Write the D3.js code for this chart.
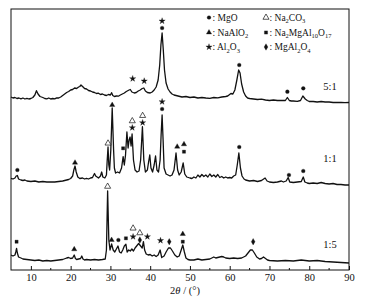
<!DOCTYPE html>
<html>
<head>
<meta charset="utf-8">
<script src="https://cdn.jsdelivr.net/npm/d3@7"></script>
<style>
  body { margin: 0; background: #fff; }
  svg text { font-family: "Liberation Serif", "Times New Roman", serif; fill: #111; }
</style>
</head>
<body>
<div id="chart"></div>
<script>
////////////////////////////////////////////////////////////
// Data (2theta in degrees, intensity in a.u. incl. offset)
////////////////////////////////////////////////////////////

const trace_5_1 = [
  [5,173],[5.5,172],[6,172.5],[6.5,171.5],[7,172],[7.5,171.2],[8,172],[8.5,171],[9,171.7],[9.5,171],
  [10,171.5],[10.5,172.5],[11,175],[11.4,179.3],[11.8,176],[12.3,173.5],[13,172.5],[13.5,171.5],[14,171.2],
  [14.5,172],[15,171],[15.5,171.5],[16,171.2],[16.5,172.2],[17,172],[17.5,173],[18,174.5],[18.5,176],
  [19,177.5],[19.5,178.5],[20,180],[20.5,180.5],[21,182],[21.5,181.5],[22,183],[22.3,183.5],[22.6,185],
  [23,183.5],[23.5,181.5],[24,181],[24.5,179.5],[25,179],[25.5,178],[26,177.5],[26.5,176.5],[27,176.8],
  [27.5,175.5],[28,176],[28.5,175],[29,174.5],[29.5,175.5],[30,175],[30.3,177.3],[30.6,174.5],[31,173.5],
  [31.5,174],[32,173.8],[32.5,175],[33,176],[33.5,177],[34,178.5],[34.7,180],[35,180.5],[35.4,178],
  [36,177],[36.5,177.5],[37,179],[37.5,180],[38,181.5],[38.4,182],[38.8,179],[39.3,177.5],[40,177],
  [40.5,178],[41,180],[41.5,183],[42,190],[42.4,205],[42.7,225],[43,237],[43.3,220],[43.6,200],[44,187],
  [44.5,181],[45,178],[45.5,176],[46,175],[47,174],[48,173],[49,173.5],[50,172.5],[51,173],[52,172],
  [53,172.5],[54,172],[55,171.7],[56,172.5],[57,172.2],[58,173],[59,173.5],[59.5,174],[60.3,176.5],
  [60.8,176],[61.3,180],[61.8,190],[62.25,200],[62.6,197],[63,186],[63.5,178],[64,174],[64.5,172],
  [65,171.5],[66,171],[67,170.5],[68,170.8],[69,170],[70,169.5],[71,170],[72,169.5],[73,169.7],[74,169.5],
  [74.5,172.5],[75,169.5],[75.5,169],[76,169],[77,168.7],[77.8,169.5],[78.4,174],[79,171],[79.5,169.5],
  [80,168.5],[81,168.5],[82,168],[83,168.5],[84,168],[85,168],[86,167.5],[87,167.7],[88,167.5],[89,167.3],[90,167.5]
]

const trace_1_1 = [
  [5,91.7],[5.5,91],[6,92],[6.3,94],[6.6,94.5],[6.9,91],[7.5,90],[8,89.5],[8.5,90],[9,89],[10,88.5],
  [11,89],[12,88],[13,88.5],[14,88],[15,88.2],[16,88],[17,88.5],[18,89],[19,90],[19.5,90.5],[20,91.5],
  [20.5,94],[20.8,100],[21.1,104],[21.4,98],[21.8,93],[22.3,91.5],[23,92],[23.5,91],[24,91.7],[24.5,91],
  [25,92],[25.5,92.5],[26,96.5],[26.3,94],[27,92],[27.5,94],[27.8,98],[28.1,93],[28.6,92],[29,95],
  [29.2,110],[29.4,123],[29.6,105],[29.8,100],[30.1,120],[30.45,162],[30.8,120],[31,102],[31.3,97],
  [31.8,98],[32.3,97],[32.8,102],[33.2,113.3],[33.5,105],[33.8,115],[34.15,138],[34.45,122],[34.7,130],
  [34.95,133],[35.2,124],[35.45,136],[35.8,110],[36.2,100],[36.7,98],[37.2,99],[37.6,110],[38.05,143.3],
  [38.4,110],[38.8,98],[39.3,100],[39.6,108],[39.9,115],[40.2,102],[40.6,98],[41,105],[41.35,114],
  [41.7,100],[42.1,98],[42.5,110],[42.75,135],[43,155],[43.25,130],[43.5,102],[44,96],[44.5,95],[45,94],
  [45.5,95],[46,100],[46.5,117],[46.9,100],[47.3,95],[47.8,98],[48.3,107],[48.7,96],[49.2,93],[50,92],
  [50.5,91.5],[51,93],[51.5,92],[52,95],[52.5,93],[53,95.5],[53.5,93.5],[54,95],[54.5,93],[55,96],
  [55.5,93.5],[56,95],[56.5,93],[57,95.5],[57.5,92.5],[58,93.5],[58.5,92],[59,93],[59.5,92],[60,92.5],
  [60.5,92],[61,94],[61.5,95],[61.9,105],[62.3,117],[62.7,102],[63.1,94],[63.6,91],[64,90],[65,89],
  [66,89.5],[67,88.5],[68,89.5],[68.9,92],[69.4,89],[70,88],[71,87.5],[72,88],[73,89],[73.5,88],
  [74.2,89],[74.7,92.5],[75.1,88],[76,87.5],[77,88],[78,88.5],[78.5,93],[78.9,88],[79.5,87],[80,86.5],
  [81,87],[82,86.5],[83,87.5],[84,86.5],[85,86],[86,86.5],[87,85.5],[88,85.5],[89,85],[90,85]
]

const trace_1_5 = [
  [5,15],[5.5,14],[6,15],[6.2,18],[6.4,21.7],[6.6,17],[6.9,13],[7.5,12],[8,11],[9,10.5],[10,10],
  [11,9.5],[12,10],[13,9],[14,9.5],[15,9],[16,9.5],[17,10],[18,10.5],[19,12],[19.5,12.5],[20,11.5],
  [20.5,12],[20.9,15],[21.2,11.5],[21.5,10.5],[22,11],[22.5,11.5],[22.8,14],[23.1,11],[23.5,10],
  [24,10.5],[25,10],[26,10.5],[27,10],[28,10.5],[28.7,11],[29,20],[29.3,79],[29.6,30],[29.9,20],
  [30.3,26],[30.7,20],[31.1,18],[31.5,21],[31.9,24],[32.3,18],[32.7,17],[33.1,20],[33.5,24],[33.9,25.7],
  [34.2,18],[34.6,20],[35,19],[35.4,21],[35.8,19],[36.2,22],[36.6,24],[37.1,26.5],[37.6,24],[38,22],
  [38.3,28.3],[38.6,20],[39,16],[39.5,15],[40,15.5],[40.5,14],[41,15],[41.5,13.5],[42,15],[42.5,20],
  [42.9,12.5],[43.5,14],[44,18],[44.6,22],[45.1,22],[45.6,19],[46.2,15],[46.8,13],[47.3,14],[47.8,20],
  [48.2,25],[48.6,18],[49,12],[49.5,10.5],[50,10],[51,10],[52,11],[53,10],[54,10.5],[55,11],[56,13],
  [56.5,12],[57,12.5],[58,13.5],[58.5,13],[59,12],[60,11.5],[61,12],[62,11.5],[63,12],[64,14],
  [64.6,17],[65.2,20],[65.7,20],[66.2,17],[66.8,13],[67.5,11],[68,11.5],[68.5,13],[69,11.5],[69.5,10],
  [70,9.5],[72,9],[74,9.5],[76,9],[78,10],[80,9],[82,9.5],[84,8.5],[86,8],[88,7.5],[90,7]
]

// phase markers: [2theta, intensity, phase]
const marks_5_1 = [
  [43, 249, 'Al2O3'], [43, 242, 'MgO'], [35.6, 191.3, 'Al2O3'], [38.5, 189, 'Al2O3'],
  [62.4, 205, 'MgO'], [74.5, 178.3, 'MgO'], [78.5, 181.7, 'MgO']
]
const marks_1_1 = [
  [6.6, 100, 'MgO'], [21.1, 107.3, 'NaAlO2'], [29.4, 126.7, 'Na2CO3'], [30.45, 165, 'NaAlO2'],
  [33.2, 121.7, 'Na2MgAl10O17'], [35.5, 149, 'Na2CO3'], [35.5, 142.3, 'Al2O3'],
  [38.1, 154.3, 'Na2CO3'], [38.1, 147.3, 'Al2O3'], [43, 168.3, 'Al2O3'], [43, 161, 'MgO'],
  [46.8, 123.3, 'NaAlO2'], [48.5, 125.7, 'NaAlO2'], [48.5, 118.3, 'Na2MgAl10O17'],
  [62.4, 123, 'MgO'], [74.9, 95, 'MgO'], [78.5, 99, 'MgO']
]
const marks_1_5 = [
  [6.4, 28.3, 'Na2MgAl10O17'], [20.9, 20.7, 'NaAlO2'], [29.3, 83.5, 'Na2CO3'], [30.3, 30, 'NaAlO2'],
  [32.0, 30, 'MgO'], [33.9, 31.7, 'Na2MgAl10O17'], [35.7, 33.3, 'Al2O3'], [35.7, 41.7, 'Na2CO3'],
  [37.4, 37, 'Na2CO3'], [37.4, 30, 'MgAl2O4'], [39.3, 33.3, 'Al2O3'], [42.6, 29.5, 'Al2O3'],
  [44.8, 28.3, 'MgAl2O4'], [48.2, 36, 'NaAlO2'], [48.2, 28.3, 'Na2MgAl10O17'], [65.9, 28.3, 'MgAl2O4']
]

const series_labels = ['5:1', '1:1', '1:5']
const series_label_y = [180, 108, 22]

const x_ticks = [10, 20, 30, 40, 50, 60, 70, 80, 90]
const x_minor = [15, 25, 35, 45, 55, 65, 75, 85]

// legend: phase key, text parts [text, is_subscript]
const legend_phases = ['MgO', 'Na2CO3', 'NaAlO2', 'Na2MgAl10O17', 'Al2O3', 'MgAl2O4']
const legend_texts = [
  [[': MgO', 0]],
  [[': Na', 0], ['2', 1], ['CO', 0], ['3', 1]],
  [[': NaAlO', 0], ['2', 1]],
  [[': Na', 0], ['2', 1], ['MgAl', 0], ['10', 1], ['O', 0], ['17', 1]],
  [[': Al', 0], ['2', 1], ['O', 0], ['3', 1]],
  [[': MgAl', 0], ['2', 1], ['O', 0], ['4', 1]]
]

////////////////////////////////////////////////////////////
// Layout
////////////////////////////////////////////////////////////

const W = 371, H = 301
const plot = { left: 11, right: 349, top: 9, bottom: 270 }

const svg = d3.select('#chart')
  .append('svg')
  .attr('width', W)
  .attr('height', H)

const x = d3.scaleLinear().domain([5, 90]).range([plot.left, plot.right])
const y = d3.scaleLinear().domain([0, 261]).range([plot.bottom, plot.top])

// symbol per phase
const phase_symbol = {
  'MgO':          { type: d3.symbolCircle,   size: 11, fill: true },
  'Na2CO3':       { type: d3.symbolTriangle, size: 16, fill: false },
  'NaAlO2':       { type: d3.symbolTriangle, size: 12, fill: true },
  'Na2MgAl10O17': { type: d3.symbolSquare,   size: 10, fill: true },
  'Al2O3':        { type: d3.symbolStar,     size: 12, fill: true },
  'MgAl2O4':      { type: d3.symbolDiamond,  size: 12, fill: true }
}

function draw_symbol(g, phase, cx, cy) {
  let s = phase_symbol[phase]
  g.append('path')
    .attr('d', d3.symbol().type(s.type).size(s.size)())
    .attr('transform', `translate(${cx},${cy})`)
    .attr('fill', s.fill ? '#111' : '#fff')
    .attr('stroke', '#111')
    .attr('stroke-width', s.fill ? 0.3 : 0.7)
}

////////////////////////////////////////////////////////////
// Traces
////////////////////////////////////////////////////////////

const line = d3.line()
  .x(d => x(d[0]))
  .y(d => y(d[1]))

let traces = [trace_5_1, trace_1_1, trace_1_5]
svg.append('g')
  .selectAll('path')
  .data(traces)
  .enter()
  .append('path')
    .attr('d', d => line(d))
    .attr('fill', 'none')
    .attr('stroke', '#111')
    .attr('stroke-width', 1.3)
    .attr('stroke-linejoin', 'round')

// markers
let mark_g = svg.append('g')
for (let m of [...marks_5_1, ...marks_1_1, ...marks_1_5]) {
  draw_symbol(mark_g, m[2], x(m[0]), y(m[1]))
}

// series labels
svg.append('g')
  .selectAll('text')
  .data(series_labels)
  .enter()
  .append('text')
    .attr('x', 330)
    .attr('y', (d, i) => y(series_label_y[i]))
    .attr('text-anchor', 'middle')
    .attr('font-size', 10.5)
    .text(d => d)

////////////////////////////////////////////////////////////
// Axis + frame
////////////////////////////////////////////////////////////

let x_axis = svg.append('g')
  .attr('transform', `translate(0,${plot.bottom})`)
  .call(
    d3.axisBottom(x)
      .tickValues(x_ticks)
      .tickSizeInner(-4)
      .tickSizeOuter(0)
      .tickPadding(3.5)
      .tickFormat(d3.format('d'))
  )
x_axis.select('.domain').remove()
x_axis.selectAll('line').attr('stroke', '#111')
x_axis.selectAll('text')
  .attr('font-size', 10.5)
  .attr('font-family', '"Liberation Serif", "Times New Roman", serif')
  .attr('fill', '#222')

svg.append('g')
  .selectAll('line')
  .data(x_minor)
  .enter()
  .append('line')
    .attr('x1', d => x(d)).attr('x2', d => x(d))
    .attr('y1', plot.bottom).attr('y2', plot.bottom - 2)
    .attr('stroke', '#111')

svg.append('rect')
  .attr('x', plot.left)
  .attr('y', plot.top)
  .attr('width', plot.right - plot.left)
  .attr('height', plot.bottom - plot.top)
  .attr('fill', 'none')
  .attr('stroke', '#111')
  .attr('stroke-width', 1)

// axis title: 2θ / (°)
let title = svg.append('text')
  .attr('x', (plot.left + plot.right) / 2 + 5)
  .attr('y', 294)
  .attr('text-anchor', 'middle')
  .attr('font-size', 10.5)
title.append('tspan').text('2')
title.append('tspan').attr('font-style', 'italic').text('θ')
title.append('tspan').text(' / (°)')

////////////////////////////////////////////////////////////
// Legend
////////////////////////////////////////////////////////////

let legend = svg.append('g')
const leg_col_x = [209, 266]
const leg_row_y = [17.5, 32.5, 47]

legend_phases.forEach((phase, i) => {
  let cx = leg_col_x[i % 2]
  let cy = leg_row_y[Math.floor(i / 2)]
  draw_symbol(legend, phase, cx, cy)

  let t = legend.append('text')
    .attr('x', cx + 3.5)
    .attr('y', cy + 3.3)
    .attr('font-size', 9.5)
  let shifted = false
  for (let part of legend_texts[i]) {
    let span = t.append('tspan').text(part[0])
    if (part[1]) {
      span.attr('font-size', 6.5).attr('dy', shifted ? 0 : 2.5)
      shifted = true
    } else if (shifted) {
      span.attr('dy', -2.5)
      shifted = false
    }
  }
})
</script>
</body>
</html>
